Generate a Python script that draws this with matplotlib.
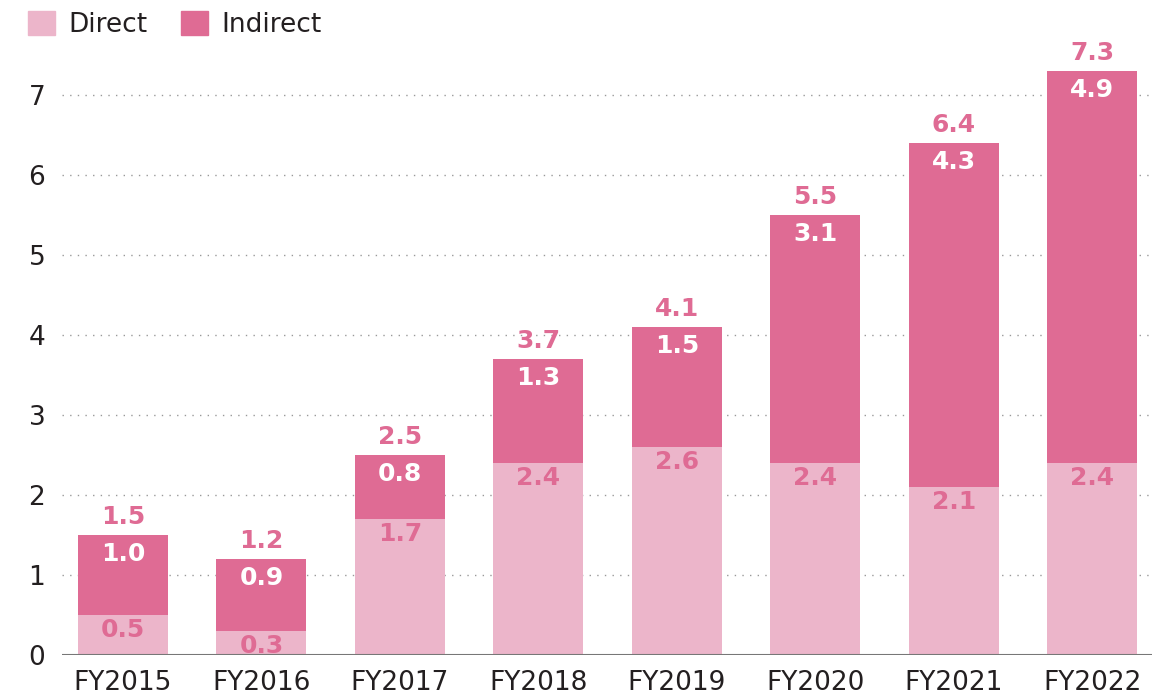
import matplotlib
matplotlib.use("Agg")
import matplotlib.pyplot as plt
from matplotlib.patches import Patch

years = ["FY2015", "FY2016", "FY2017", "FY2018", "FY2019", "FY2020", "FY2021", "FY2022"]
direct = [0.5, 0.3, 1.7, 2.4, 2.6, 2.4, 2.1, 2.4]
indirect = [1.0, 0.9, 0.8, 1.3, 1.5, 3.1, 4.3, 4.9]
totals = [1.5, 1.2, 2.5, 3.7, 4.1, 5.5, 6.4, 7.3]
yticks = [0, 1, 2, 3, 4, 5, 6, 7]

c_direct = "#ECB5CA"
c_indirect = "#DF6B94"
c_text = "#231F20"

plt.rcParams['font.family'] = ['DejaVu Sans']

fig = plt.figure(figsize=(11.61, 7.0), dpi=100)
ax = fig.add_axes([62/1161, 45/700, (1152-62)/1161, 608/700])

x = list(range(len(years)))
w = 0.65
ax.bar(x, direct, width=w, color=c_direct, zorder=2)
ax.bar(x, indirect, width=w, bottom=direct, color=c_indirect, zorder=2)

ax.set_xlim(-0.44, 7.43)
ax.set_ylim(0, 7.6)
ax.set_yticks(yticks)
ax.set_yticklabels([str(t) for t in yticks])
ax.set_xticks(x)
ax.set_xticklabels(years)
ax.tick_params(axis='both', length=0, labelsize=19, colors=c_text)
ax.tick_params(axis='y', pad=12)
ax.tick_params(axis='x', pad=11)

for t in yticks[1:]:
    ax.axhline(t, color="#999999", linestyle=(0, (1, 4.5)), linewidth=1.0, zorder=1)
ax.axhline(0, color="#777777", linewidth=1.5, zorder=3)

for s in ax.spines.values():
    s.set_visible(False)

for i in x:
    d = direct[i]
    ind = indirect[i]
    tot = totals[i]
    ax.annotate(f"{d:.1f}", (i, d), xytext=(0, -2), textcoords="offset points",
                ha="center", va="top", fontsize=18, fontweight="bold", color=c_indirect,
                zorder=4)
    ax.annotate(f"{ind:.1f}", (i, d + ind), xytext=(0, -5), textcoords="offset points",
                ha="center", va="top", fontsize=18, fontweight="bold", color="white", zorder=4)
    ax.annotate(f"{tot:.1f}", (i, d + ind), xytext=(0, 4), textcoords="offset points",
                ha="center", va="bottom", fontsize=18, fontweight="bold", color=c_indirect, zorder=4)

handles = [Patch(color=c_direct, label="Direct"), Patch(color=c_indirect, label="Indirect")]
fig.legend(handles=handles, loc="upper left", bbox_to_anchor=(0.004, 1.018), ncol=2,
           frameon=False, fontsize=19, handlelength=1.0, handleheight=1.0,
           handletextpad=0.5, columnspacing=1.3, labelcolor=c_text)

fig.savefig("out.png", dpi=100)
